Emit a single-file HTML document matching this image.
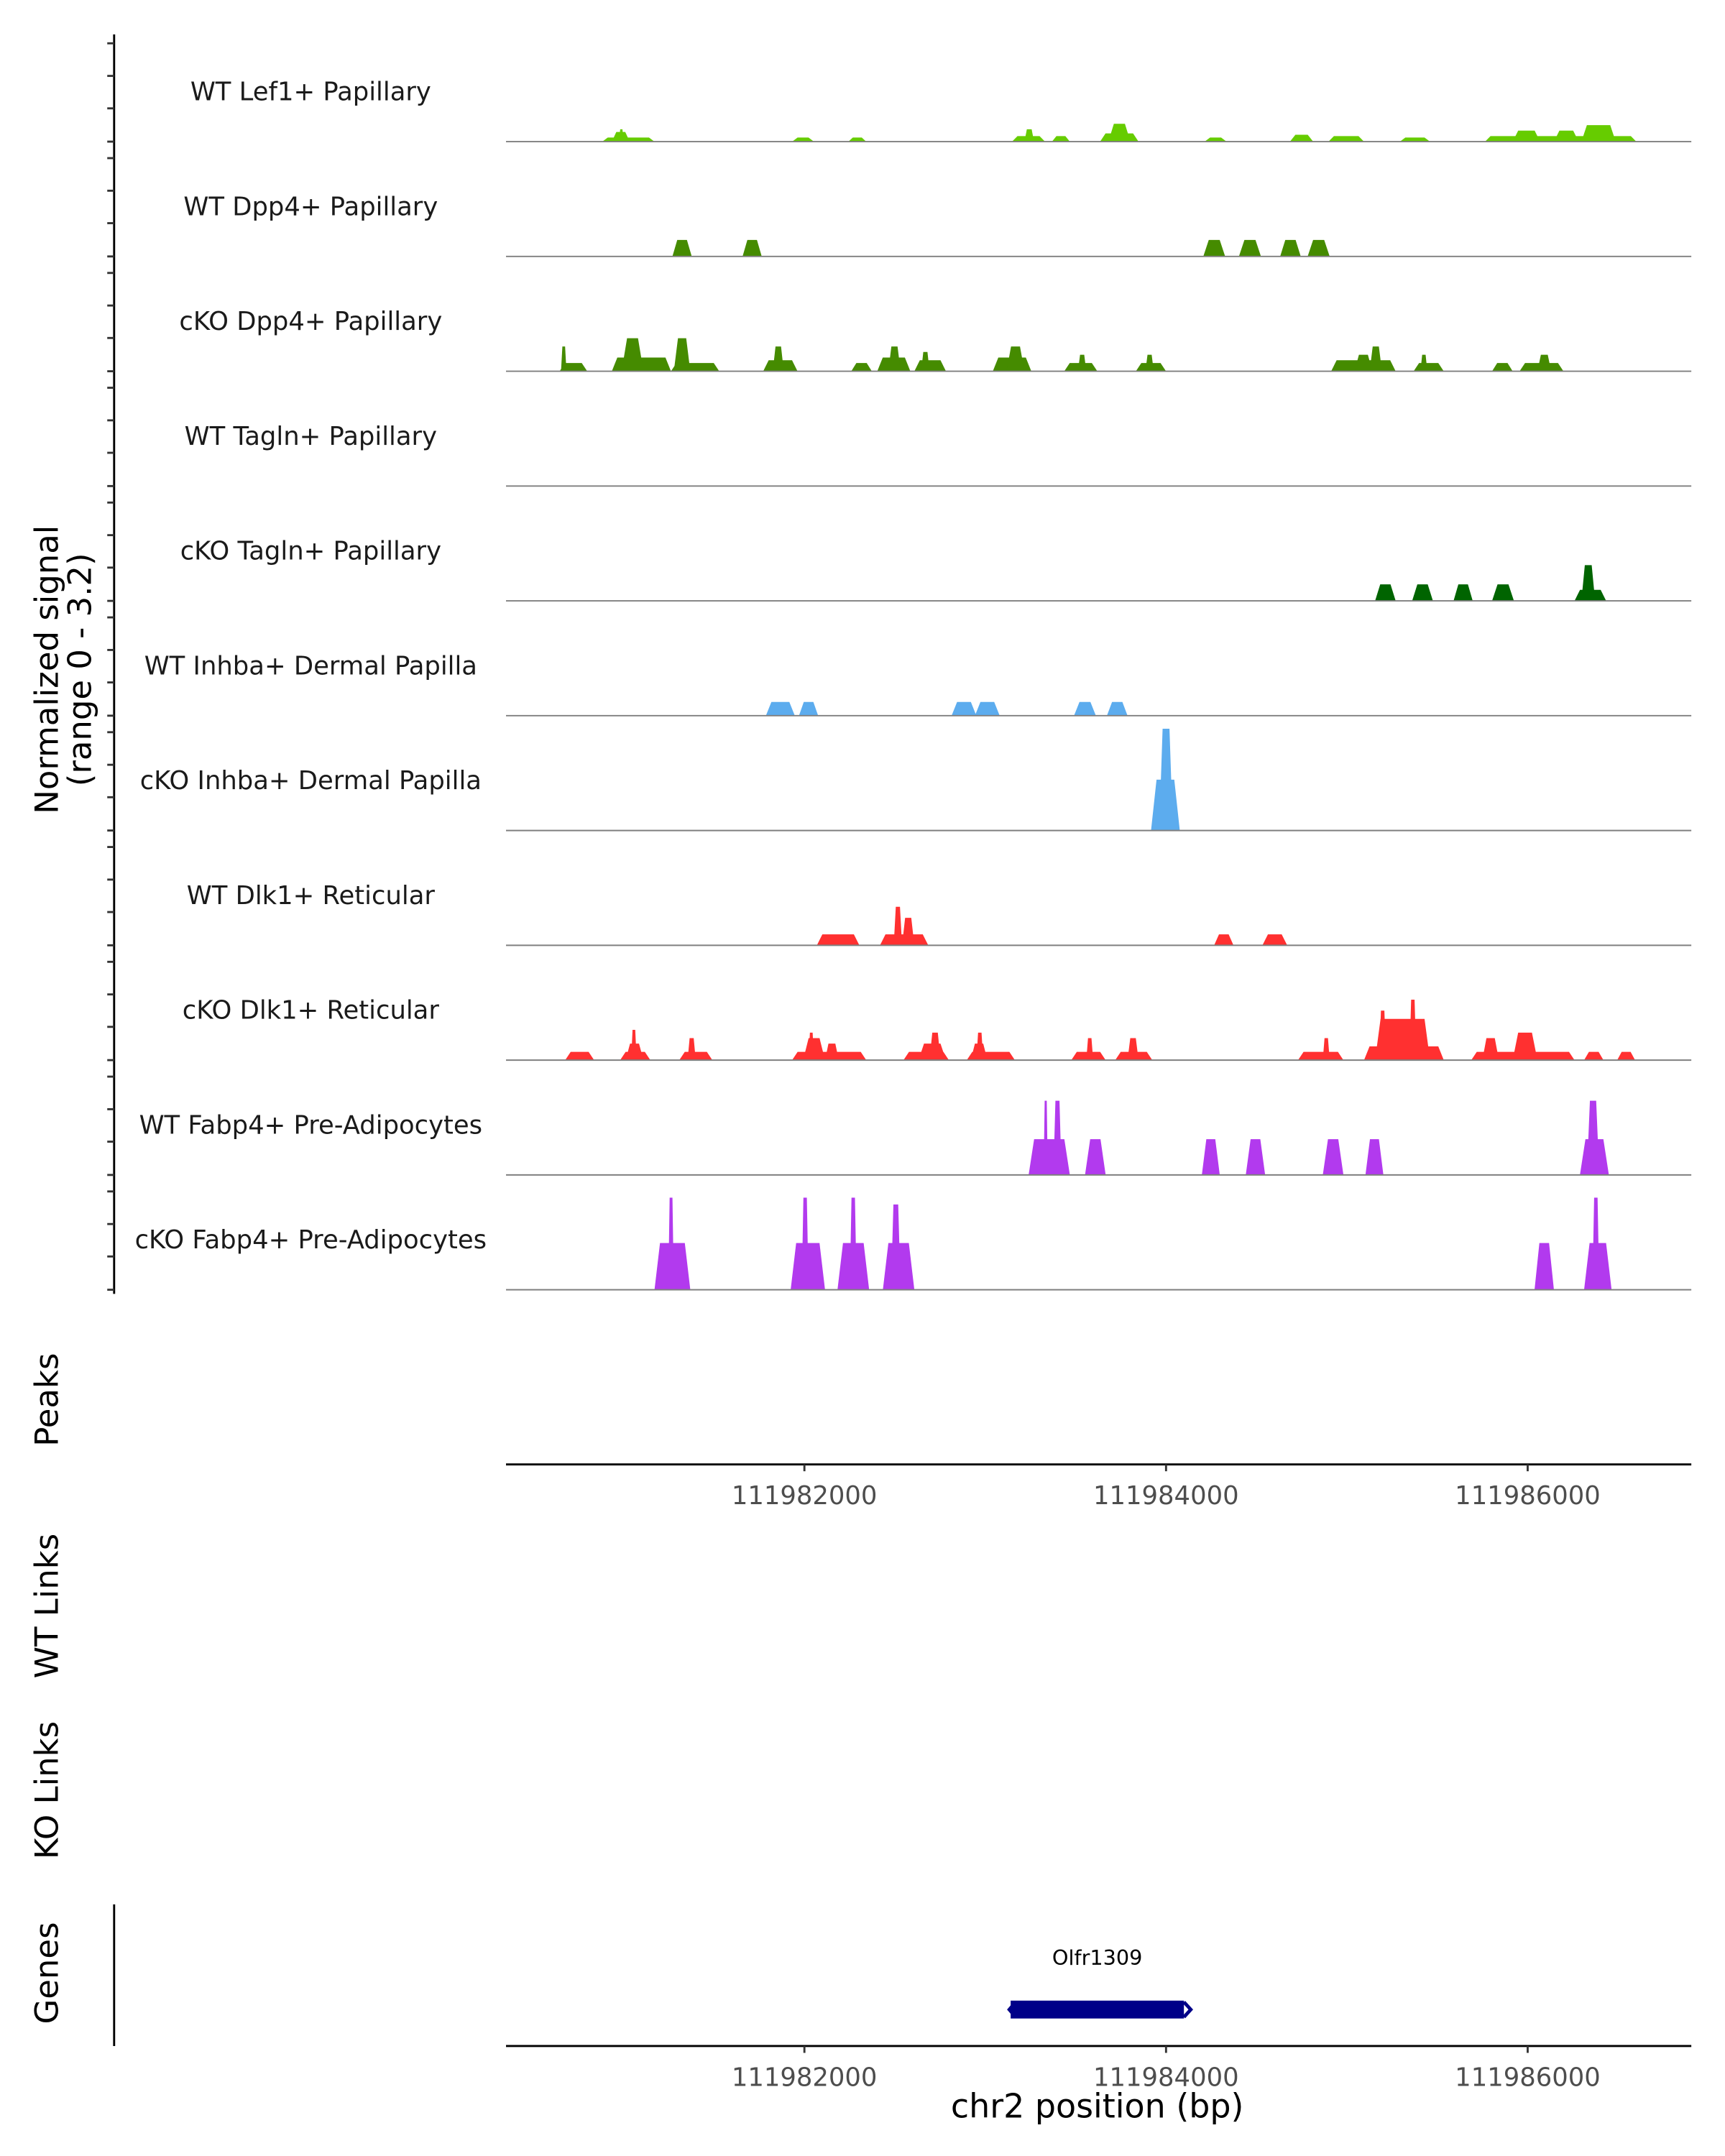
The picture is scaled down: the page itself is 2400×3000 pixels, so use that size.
<!DOCTYPE html>
<html><head><meta charset="utf-8"><style>html,body{margin:0;padding:0;background:#fff}svg{display:block}</style></head>
<body>
<svg id="c" width="2400" height="3000" viewBox="0 0 1254.5 1568" preserveAspectRatio="none" xmlns="http://www.w3.org/2000/svg" font-family="DejaVu Sans, Liberation Sans, sans-serif">
<g id="tracks"></g>
<line x1="83" y1="25" x2="83" y2="941" stroke="#000" stroke-width="1.5"/>
<g id="yt"></g>
<text transform="translate(42,487) rotate(-90)" text-anchor="middle" font-size="23.5">Normalized signal</text>
<text transform="translate(66,487) rotate(-90)" text-anchor="middle" font-size="23.5">(range 0 - 3.2)</text>
<text transform="translate(42,1018) rotate(-90)" text-anchor="middle" font-size="23.5">Peaks</text>
<line x1="368" y1="1065" x2="1230" y2="1065" stroke="#000" stroke-width="1.5"/>
<g id="xt1"></g>
<text transform="translate(42,1168) rotate(-90)" text-anchor="middle" font-size="23.5">WT Links</text>
<text transform="translate(42,1302) rotate(-90)" text-anchor="middle" font-size="23.5">KO Links</text>
<text transform="translate(42,1435) rotate(-90)" text-anchor="middle" font-size="23.5">Genes</text>
<line x1="83" y1="1385" x2="83" y2="1488" stroke="#000" stroke-width="1.5"/>
<text x="798" y="1429" text-anchor="middle" font-size="15">Olfr1309</text>
<rect x="735" y="1455" width="126" height="13" fill="#000088"/>
<path d="M737 1458 L734 1461.5 L737 1465 M861 1456 L866 1461.5 L861 1467" stroke="#000088" stroke-width="2.5" fill="none"/>
<line x1="368" y1="1488" x2="1230" y2="1488" stroke="#000" stroke-width="1.5"/>
<g id="xt2"></g>
<text x="798" y="1540" text-anchor="middle" font-size="24">chr2 position (bp)</text>
</svg>
<script>
const base = 111980000;
const trackNames = ["WT Lef1+ Papillary","WT Dpp4+ Papillary","cKO Dpp4+ Papillary","WT Tagln+ Papillary","cKO Tagln+ Papillary","WT Inhba+ Dermal Papilla","cKO Inhba+ Dermal Papilla","WT Dlk1+ Reticular","cKO Dlk1+ Reticular","WT Fabp4+ Pre-Adipocytes","cKO Fabp4+ Pre-Adipocytes"];
const trackColors = ["#66CC00","#458B00","#458B00","#006400","#006400","#5CACEE","#5CACEE","#FF3030","#FF3030","#B23AEE","#B23AEE"];
// peaks: [start offset bp, end offset bp, value]
const lef1WT = [[882,1171,0.12],[935,1034,0.28],[975,1000,0.36],[1932,2053,0.12],[2243,2342,0.12],[3148,3331,0.16],[3217,3270,0.36],[3369,3468,0.16],[3635,3848,0.24],[3681,3803,0.52],[4213,4335,0.12],[4685,4814,0.2],[4898,5095,0.16],[5293,5460,0.12],[5764,6601,0.16],[5917,6069,0.32],[6145,6282,0.32],[6297,6487,0.48]];
const dpp4WT = [[1270,1377,0.48],[1658,1764,0.48],[4206,4327,0.48],[4403,4525,0.48],[4631,4745,0.48],[4783,4905,0.48]];
const dpp4KO = [[646,799,0.24],[654,684,0.72],[935,1262,0.4],[989,1110,0.96],[1262,1529,0.24],[1278,1369,0.96],[1772,1962,0.32],[1825,1886,0.72],[2259,2373,0.24],[2403,2586,0.4],[2464,2532,0.72],[2608,2783,0.32],[2646,2692,0.56],[3042,3255,0.4],[3118,3217,0.72],[3437,3620,0.24],[3513,3559,0.48],[3833,4000,0.24],[3886,3932,0.48],[4913,5270,0.32],[5042,5141,0.48],[5126,5194,0.72],[5369,5536,0.24],[5407,5445,0.48],[5803,5917,0.24],[5955,6198,0.24],[6054,6130,0.48]];
const taglnWT = [];
const taglnKO = [[5156,5270,0.48],[5361,5476,0.48],[5590,5696,0.48],[5803,5924,0.48],[6259,6434,0.32],[6297,6373,1.04]];
const inhbaWT = [[1787,1947,0.4],[1970,2076,0.4],[2814,2951,0.4],[2943,3080,0.4],[3491,3612,0.4],[3673,3787,0.4]];
const inhbaKO = [[3917,4076,1.48],[3962,4038,2.96]];
const dlk1WT = [[2069,2304,0.32],[2418,2685,0.32],[2494,2540,1.12],[2540,2608,0.8],[4266,4373,0.32],[4533,4670,0.32]];
const dlk1KO = [[677,837,0.24],[981,1148,0.24],[1011,1110,0.48],[1042,1072,0.88],[1308,1491,0.24],[1354,1399,0.64],[1932,2342,0.24],[1993,2114,0.64],[2023,2053,0.8],[2114,2190,0.48],[2548,2799,0.24],[2631,2783,0.48],[2692,2753,0.8],[2898,3164,0.24],[2920,3012,0.48],[2951,2989,0.8],[3476,3666,0.24],[3559,3597,0.64],[3719,3924,0.24],[3787,3848,0.64],[4730,4981,0.24],[4867,4905,0.64],[5095,5536,0.4],[5156,5460,1.2],[5179,5217,1.44],[5346,5384,1.76],[5688,6259,0.24],[5749,5841,0.64],[5917,6054,0.8],[6312,6419,0.24],[6495,6594,0.24]];
const fabp4WT = [[3240,3468,1.04],[3323,3346,2.16],[3377,3422,2.16],[3552,3666,1.04],[4198,4297,1.04],[4441,4548,1.04],[4867,4981,1.04],[5103,5202,1.04],[6289,6449,1.04],[6327,6396,2.16]];
const fabp4KO = [[1171,1369,1.36],[1247,1278,2.68],[1924,2114,1.36],[1985,2023,2.68],[2183,2358,1.36],[2251,2289,2.68],[2434,2608,1.36],[2479,2532,2.48],[6038,6145,1.36],[6312,6464,1.36],[6358,6396,2.68]];
const trackData = [lef1WT,dpp4WT,dpp4KO,taglnWT,taglnKO,inhbaWT,inhbaKO,dlk1WT,dlk1KO,fabp4WT,fabp4KO];
const xTicks = [111982000,111984000,111986000];

const NS = "http://www.w3.org/2000/svg";
function xs(bp){return 585 + (bp-111982000)*0.1315;}
function ys(v,i){return baseY(i) - v*25;}
function baseY(i){return 103 + i*83.5;}
function mk(tag, attrs, parent){const e=document.createElementNS(NS,tag);for(const k in attrs)e.setAttribute(k,attrs[k]);parent.appendChild(e);return e;}
const tg=document.getElementById('tracks'), yt=document.getElementById('yt');
trackData.forEach((peaks,i)=>{
  const g=mk('g',{},tg);
  
  
  peaks.forEach(p=>{
    const x1=xs(base+p[0]), x2=xs(base+p[1]), y=ys(p[2],i), b=baseY(i);
    const r=Math.min((x2-x1)*0.25,4);
    const poly=mk('polygon',{points:`${x1},${b} ${x1+r},${y} ${x2-r},${y} ${x2},${b}`,fill:trackColors[i]},g);
    
    
  });
  const bl=mk('line',{x1:368,x2:1230,y1:baseY(i),y2:baseY(i),stroke:'#7f7f7f','stroke-width':1},g);
  
  
  const t=mk('text',{x:226,y:baseY(i)-30,'text-anchor':'middle','font-size':'18.5',fill:'#1a1a1a'},g);
  t.textContent=trackNames[i];
  
  
  const top=baseY(i)-83.5;
  [12,35.7,59.3,83.5].forEach(o=>{
    const tk=mk('line',{x1:78,x2:83,y1:top+o,y2:top+o,stroke:'#333','stroke-width':1.5},yt);
    
    
  });
});
[['xt1',1065],['xt2',1488]].forEach(([id,y])=>{
  const g=document.getElementById(id);
  xTicks.forEach(v=>{
    const x=xs(v);
    const l=mk('line',{x1:x,x2:x,y1:y,y2:y+5,stroke:'#333','stroke-width':1.5},g);
    
    
    const t=mk('text',{x:x,y:y+29,'text-anchor':'middle','font-size':'18.5',fill:'#4d4d4d'},g);
    t.textContent=String(v);
    
    
  });
});
</script>
</body></html>
